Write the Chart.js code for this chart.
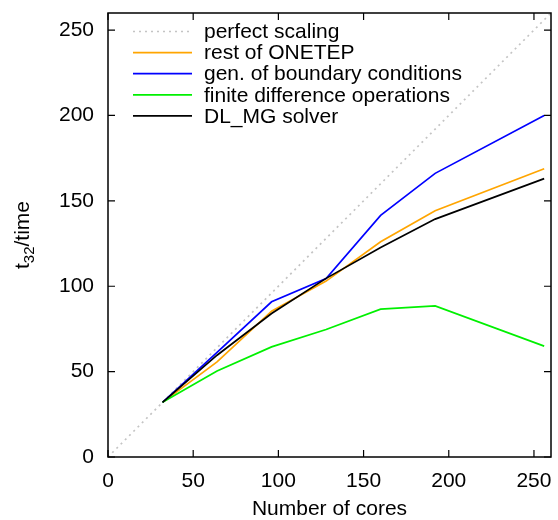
<!DOCTYPE html>
<html>
<head>
<meta charset="utf-8">
<script src="https://cdn.jsdelivr.net/npm/chart.js@4.4.1/dist/chart.umd.min.js"></script>
<style>
  body { margin: 0; background: #fff; }
  #wrap { width: 558px; height: 520px; }
</style>
</head>
<body>
<div id="wrap"><canvas id="scalingChart" width="558" height="520"></canvas></div>
<script>
// number of cores and t32/time for each part of the code
const cores = [32, 64, 96, 128, 160, 192, 256];
const perfectX = [0, 260];
const perfectY = [0, 260];
const restOfOnetep = [32, 55.7, 85.4, 103, 126, 144.2, 168.8];
const boundaryConditions = [32, 61.3, 90.9, 104.5, 141.5, 166.1, 200];
const finiteDifference = [32, 50.4, 64.5, 74.7, 86.6, 88.5, 64.9];
const dlmgSolver = [32, 59.6, 84, 104.6, 122.7, 139.3, 163];
const tickValues = [0, 50, 100, 150, 200, 250];

const FONT = 'Liberation Sans, Arial, Helvetica, sans-serif';

function toPoints(xs, ys) {
    return xs.map((x, i) => ({ x: x, y: ys[i] }));
}

const series = [
    { label: 'perfect scaling', data: toPoints(perfectX, perfectY), color: '#c4c4c4', dash: [2, 4] },
    { label: 'rest of ONETEP', data: toPoints(cores, restOfOnetep), color: '#ffa500', dash: [] },
    { label: 'gen. of boundary conditions', data: toPoints(cores, boundaryConditions), color: '#0000ff', dash: [] },
    { label: 'finite difference operations', data: toPoints(cores, finiteDifference), color: '#00f000', dash: [] },
    { label: 'DL_MG solver', data: toPoints(cores, dlmgSolver), color: '#000000', dash: [] }
];

// gnuplot style frame, inward ticks on all sides, legend and axis titles
const framePlugin = {
    id: 'frame',
    afterDatasetsDraw(chart) {
        const ctx = chart.ctx;
        const a = chart.chartArea;
        const xs = chart.scales.x;
        const ys = chart.scales.y;
        ctx.save();
        ctx.strokeStyle = '#000';
        ctx.lineWidth = 1.5;
        ctx.strokeRect(a.left, a.top, a.right - a.left, a.bottom - a.top);
        ctx.lineWidth = 1.2;
        ctx.beginPath();
        tickValues.forEach(v => {
            const px = xs.getPixelForValue(v);
            ctx.moveTo(px, a.bottom); ctx.lineTo(px, a.bottom - 7);
            ctx.moveTo(px, a.top); ctx.lineTo(px, a.top + 7);
            const py = ys.getPixelForValue(v);
            ctx.moveTo(a.left, py); ctx.lineTo(a.left + 7, py);
            ctx.moveTo(a.right, py); ctx.lineTo(a.right - 7, py);
        });
        ctx.stroke();

        // legend, top left inside the plot
        ctx.font = '21px ' + FONT;
        ctx.textBaseline = 'middle';
        ctx.textAlign = 'left';
        series.forEach((s, i) => {
            const y = 31.5 + i * 21.1;
            ctx.strokeStyle = s.color;
            ctx.lineWidth = 1.7;
            ctx.setLineDash(s.dash);
            ctx.beginPath();
            ctx.moveTo(133, y);
            ctx.lineTo(192, y);
            ctx.stroke();
            ctx.setLineDash([]);
            ctx.fillStyle = '#000';
            ctx.fillText(s.label, 204, y + 1);
        });

        // x title
        ctx.textAlign = 'center';
        ctx.textBaseline = 'alphabetic';
        ctx.fillText('Number of cores', (a.left + a.right) / 2, 515);

        // y title with subscript
        ctx.translate(29, (a.top + a.bottom) / 2);
        ctx.rotate(-Math.PI / 2);
        const big = '21px ' + FONT;
        const small = '15px ' + FONT;
        ctx.font = big;
        const w1 = ctx.measureText('t').width;
        const w3 = ctx.measureText('/time').width;
        ctx.font = small;
        const w2 = ctx.measureText('32').width;
        let x0 = -(w1 + w2 + w3) / 2;
        ctx.textAlign = 'left';
        ctx.font = big;
        ctx.fillText('t', x0, 0);
        ctx.font = small;
        ctx.fillText('32', x0 + w1, 5);
        ctx.font = big;
        ctx.fillText('/time', x0 + w1 + w2, 0);
        ctx.restore();
    }
};

const ctx = document.getElementById('scalingChart').getContext('2d');
const scalingChart = new Chart(ctx, {
    type: 'line',
    data: {
        datasets: series.map((s, i) => ({
            label: s.label,
            data: s.data,
            borderColor: s.color,
            borderDash: s.dash,
            borderWidth: 1.7,
            pointRadius: 0,
            fill: false,
            tension: 0,
            order: series.length - i
        }))
    },
    options: {
        responsive: false,
        animation: false,
        events: [],
        layout: { padding: { top: 13, right: 7, left: 0, bottom: 0 } },
        plugins: {
            legend: { display: false },
            tooltip: { enabled: false }
        },
        scales: {
            x: {
                type: 'linear',
                min: 0,
                max: 260,
                afterBuildTicks: scale => { scale.ticks = tickValues.map(v => ({ value: v })); },
                afterFit: scale => {
                    scale.height = 63;
                    scale.paddingLeft = 0;
                    scale.paddingRight = 0;
                },
                grid: { display: false, drawTicks: false },
                border: { display: false },
                ticks: { color: '#000', font: { family: FONT, size: 21 }, padding: 12, maxRotation: 0 }
            },
            y: {
                type: 'linear',
                min: 0,
                max: 260,
                afterBuildTicks: scale => { scale.ticks = tickValues.map(v => ({ value: v })); },
                afterFit: scale => {
                    scale.width = 108;
                    scale.paddingTop = 0;
                    scale.paddingBottom = 0;
                },
                grid: { display: false, drawTicks: false },
                border: { display: false },
                ticks: { color: '#000', font: { family: FONT, size: 21 }, padding: 14 }
            }
        }
    },
    plugins: [framePlugin]
});
</script>
</body>
</html>
